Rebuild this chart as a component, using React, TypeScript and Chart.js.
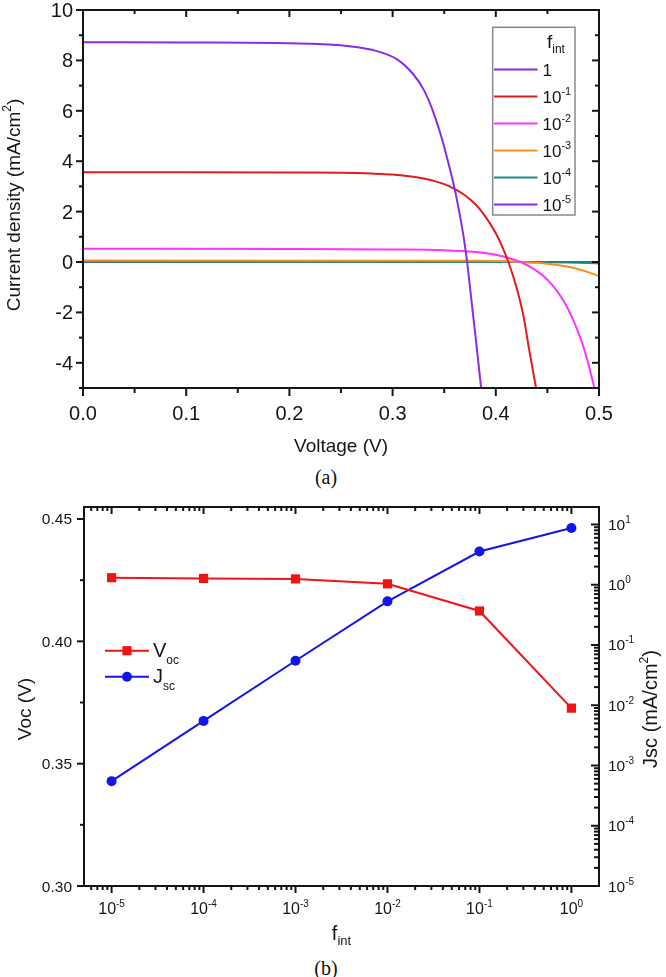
import React, { useEffect, useRef } from 'react';
import { Chart, registerables } from 'chart.js';

Chart.register(...registerables);

const FONT = '"Liberation Sans", Arial, Helvetica, sans-serif';
const AX = '#151515';

// ---------- Panel (a): J–V curves for several f_int ----------
const voltageF1 = [0, 0.1, 0.2, 0.25, 0.28, 0.304, 0.32, 0.33, 0.339, 0.347, 0.353, 0.36, 0.365, 0.369, 0.3722, 0.3765, 0.381, 0.3858];
const currentF1 = [8.72, 8.71, 8.68, 8.6, 8.42, 8.05, 7.45, 6.85, 6.0, 5.0, 4.1, 2.93, 1.9, 0.95, 0, -1.55, -3.2, -5.0];

const voltageF1e1 = [0, 0.1, 0.2, 0.25, 0.28, 0.3, 0.32, 0.33, 0.34, 0.35, 0.36, 0.37, 0.38, 0.39, 0.4, 0.406, 0.4122, 0.42, 0.4266, 0.432, 0.439];
const currentF1e1 = [3.56, 3.56, 3.55, 3.54, 3.51, 3.47, 3.38, 3.31, 3.22, 3.09, 2.9, 2.65, 2.3, 1.8, 1.14, 0.63, 0, -1.0, -2.1, -3.4, -5.0];

const voltageF1e2 = [0, 0.2, 0.3, 0.35, 0.38, 0.4, 0.41, 0.418, 0.424, 0.435, 0.445, 0.455, 0.465, 0.473, 0.48, 0.486, 0.491, 0.4955];
const currentF1e2 = [0.53, 0.52, 0.5, 0.47, 0.4, 0.29, 0.19, 0.09, 0, -0.23, -0.52, -0.93, -1.5, -2.12, -2.8, -3.5, -4.25, -5.0];

const voltageF1e3 = [0, 0.3, 0.38, 0.41, 0.4255, 0.44, 0.45, 0.46, 0.47, 0.48, 0.49, 0.5];
const currentF1e3 = [0.055, 0.054, 0.047, 0.03, 0, -0.034, -0.07, -0.12, -0.19, -0.29, -0.41, -0.56];

const voltageF1e4 = [0, 0.4, 0.4255, 0.45, 0.47, 0.49, 0.5];
const currentF1e4 = [0.0055, 0.0035, 0, -0.007, -0.019, -0.04, -0.056];

const voltageF1e5 = [0, 0.4, 0.4255, 0.45, 0.47, 0.49, 0.5];
const currentF1e5 = [0.00055, 0.00035, 0, -0.0007, -0.0019, -0.004, -0.0056];

const seriesColorsA = ['#8B2BE2', '#E01B1B', '#FF33FF', '#FF8C1A', '#178A8A', '#8B2BE2'];
const legendExpA: (string | null)[] = [null, '-1', '-2', '-3', '-4', '-5'];

const xTicksA = [0, 0.1, 0.2, 0.3, 0.4, 0.5];
const xLabelsA = ['0.0', '0.1', '0.2', '0.3', '0.4', '0.5'];
const yTicksA = [-4, -2, 0, 2, 4, 6, 8, 10];

// ---------- Panel (b): Voc and Jsc vs f_int ----------
const fInt = [1e-5, 1e-4, 1e-3, 1e-2, 1e-1, 1];
const vocValues = [0.426, 0.4257, 0.4255, 0.4235, 0.4124, 0.3727];
const jscValues = [5.5e-4, 5.5e-3, 0.0547, 0.53, 3.56, 8.72];

const xExpB = [-5, -4, -3, -2, -1, 0];
const vocTicks = [0.3, 0.35, 0.4, 0.45];
const vocLabels = ['0.30', '0.35', '0.40', '0.45'];
const jscExp = [-5, -4, -3, -2, -1, 0, 1];

type Seg = { t: string; s: number; dy?: number };

function drawRich(ctx: CanvasRenderingContext2D, segs: Seg[], x: number, y: number, align: 'left' | 'center' | 'right') {
  let total = 0;
  const widths: number[] = [];
  for (const g of segs) {
    ctx.font = `${g.s}px ${FONT}`;
    const w = ctx.measureText(g.t).width;
    widths.push(w);
    total += w;
  }
  let cx = align === 'left' ? x : align === 'center' ? x - total / 2 : x - total;
  ctx.textAlign = 'left';
  ctx.textBaseline = 'alphabetic';
  segs.forEach((g, i) => {
    ctx.font = `${g.s}px ${FONT}`;
    ctx.fillText(g.t, cx, y + (g.dy || 0));
    cx += widths[i];
  });
}

function seg(ctx: CanvasRenderingContext2D, x1: number, y1: number, x2: number, y2: number) {
  ctx.beginPath();
  ctx.moveTo(x1, y1);
  ctx.lineTo(x2, y2);
  ctx.stroke();
}

const panelAPlugin = {
  id: 'panelA',
  afterDraw(chart: any) {
    const { ctx, chartArea: a, scales } = chart;
    const sx = scales.x;
    const sy = scales.y;
    ctx.save();
    ctx.strokeStyle = AX;
    ctx.fillStyle = AX;
    ctx.lineWidth = 2;
    ctx.strokeRect(a.left, a.top, a.right - a.left, a.bottom - a.top);
    // x ticks
    xTicksA.forEach((v, i) => {
      const p = sx.getPixelForValue(v);
      seg(ctx, p, a.bottom, p, a.bottom + 8);
      seg(ctx, p, a.top, p, a.top + 7);
      if (i < xTicksA.length - 1) {
        const q = sx.getPixelForValue(v + 0.05);
        seg(ctx, q, a.bottom, q, a.bottom + 5);
        seg(ctx, q, a.top, q, a.top + 4);
      }
    });
    // y ticks
    yTicksA.forEach((v) => {
      const p = sy.getPixelForValue(v);
      seg(ctx, a.left - 7, p, a.left, p);
      seg(ctx, a.right - 7, p, a.right, p);
      const q = sy.getPixelForValue(v - 1);
      seg(ctx, a.left - 4, q, a.left, q);
      seg(ctx, a.right - 4, q, a.right, q);
    });
    // labels
    xTicksA.forEach((v, i) => {
      drawRich(ctx, [{ t: xLabelsA[i], s: 20 }], sx.getPixelForValue(v), 420, 'center');
    });
    yTicksA.forEach((v) => {
      drawRich(ctx, [{ t: String(v), s: 20 }], a.left - 10, sy.getPixelForValue(v) + 7, 'right');
    });
    // axis titles
    drawRich(ctx, [{ t: 'Voltage (V)', s: 19 }], (a.left + a.right) / 2, 452, 'center');
    ctx.save();
    ctx.translate(13, (a.top + a.bottom) / 2 + 6);
    ctx.rotate(-Math.PI / 2);
    drawRich(ctx, [
      { t: 'Current density (mA/cm', s: 19 },
      { t: '2', s: 12, dy: -9 },
      { t: ')', s: 19 },
    ], 0, 7, 'center');
    ctx.restore();
    // legend
    ctx.strokeStyle = '#8a8a8a';
    ctx.lineWidth = 1.5;
    ctx.strokeRect(492.7, 27.3, 82.3, 187.7);
    drawRich(ctx, [{ t: 'f', s: 19 }, { t: 'int', s: 12, dy: 5 }], 547, 48, 'left');
    legendExpA.forEach((e, i) => {
      const y = 69.5 + 27 * i;
      ctx.strokeStyle = seriesColorsA[i];
      ctx.lineWidth = 2;
      seg(ctx, 494, y, 537.5, y);
      ctx.fillStyle = AX;
      if (e === null) drawRich(ctx, [{ t: '1', s: 17 }], 542.5, y + 6.5, 'left');
      else drawRich(ctx, [{ t: '10', s: 17 }, { t: e, s: 11, dy: -8 }], 542.5, y + 6.5, 'left');
    });
    ctx.restore();
  },
};

const panelBPlugin = {
  id: 'panelB',
  afterDraw(chart: any) {
    const { ctx, chartArea: a, scales } = chart;
    const sx = scales.x;
    const sy = scales.y;
    const sy2 = scales.y2;
    ctx.save();
    ctx.strokeStyle = AX;
    ctx.fillStyle = AX;
    ctx.lineWidth = 2;
    ctx.strokeRect(a.left, a.top, a.right - a.left, a.bottom - a.top);
    // x log ticks
    for (let e = -6; e <= 0; e++) {
      for (let m = 1; m <= 9; m++) {
        const v = m * Math.pow(10, e);
        if (v < sx.min || v > sx.max) continue;
        const p = sx.getPixelForValue(v);
        const len = m === 1 ? 7 : 4;
        seg(ctx, p, a.bottom, p, a.bottom + len);
        seg(ctx, p, a.top, p, a.top + len);
      }
    }
    // left ticks
    vocTicks.forEach((v, i) => {
      const p = sy.getPixelForValue(v);
      seg(ctx, a.left - 7, p, a.left, p);
      if (i < vocTicks.length - 1) {
        const q = sy.getPixelForValue(v + 0.025);
        seg(ctx, a.left - 4, q, a.left, q);
      }
    });
    // right log ticks
    for (let e = -5; e <= 1; e++) {
      for (let m = 1; m <= 9; m++) {
        const v = m * Math.pow(10, e);
        if (v < sy2.min * 0.999 || v > sy2.max) continue;
        const p = sy2.getPixelForValue(v);
        const len = m === 1 ? 8 : 5;
        seg(ctx, a.right - len, p, a.right, p);
      }
    }
    // labels
    vocTicks.forEach((v, i) => {
      drawRich(ctx, [{ t: vocLabels[i], s: 15.5 }], a.left - 12, sy.getPixelForValue(v) + 5.5, 'right');
    });
    xExpB.forEach((e) => {
      drawRich(ctx, [{ t: '10', s: 16 }, { t: String(e), s: 10, dy: -7 }], sx.getPixelForValue(Math.pow(10, e)), a.bottom + 28, 'center');
    });
    jscExp.forEach((e) => {
      drawRich(ctx, [{ t: '10', s: 15.5 }, { t: String(e), s: 10, dy: -7 }], a.right + 9, sy2.getPixelForValue(Math.pow(10, e)) + 5.5, 'left');
    });
    // titles
    drawRich(ctx, [{ t: 'f', s: 20 }, { t: 'int', s: 13, dy: 5 }], (a.left + a.right) / 2, 450, 'center');
    ctx.save();
    ctx.translate(24, 219);
    ctx.rotate(-Math.PI / 2);
    drawRich(ctx, [{ t: 'Voc (V)', s: 19 }], 0, 7, 'center');
    ctx.restore();
    ctx.save();
    ctx.translate(650, 219);
    ctx.rotate(-Math.PI / 2);
    drawRich(ctx, [
      { t: 'Jsc (mA/cm', s: 20 },
      { t: '2', s: 12, dy: -9 },
      { t: ')', s: 20 },
    ], 0, 7, 'center');
    ctx.restore();
    // legend
    const rows = [
      { y: 160.7, color: '#F01414', main: 'V', sub: 'oc', marker: 'rect' },
      { y: 186.7, color: '#1414F0', main: 'J', sub: 'sc', marker: 'circle' },
    ];
    rows.forEach((r) => {
      ctx.strokeStyle = r.color;
      ctx.fillStyle = r.color;
      ctx.lineWidth = 2;
      seg(ctx, 105, r.y, 149, r.y);
      if (r.marker === 'rect') ctx.fillRect(127 - 4.6, r.y - 4.6, 9.2, 9.2);
      else {
        ctx.beginPath();
        ctx.arc(127, r.y, 5, 0, Math.PI * 2);
        ctx.fill();
      }
      ctx.fillStyle = AX;
      drawRich(ctx, [{ t: r.main, s: 20 }, { t: r.sub, s: 12, dy: 7 }], 153, r.y + 6.5, 'left');
    });
    ctx.restore();
  },
};

function zip(xs: number[], ys: number[]) {
  return xs.map((x, i) => ({ x, y: ys[i] }));
}

const captionStyle = (top: number): React.CSSProperties => ({
  position: 'absolute',
  left: 276,
  width: 100,
  top,
  height: 24,
  lineHeight: '24px',
  textAlign: 'center',
  fontFamily: '"Liberation Serif", "Times New Roman", serif',
  fontSize: 20,
  color: '#111',
});

export default function App() {
  const refA = useRef<HTMLCanvasElement>(null);
  const refB = useRef<HTMLCanvasElement>(null);

  useEffect(() => {
    const seriesA = [
      zip(voltageF1, currentF1),
      zip(voltageF1e1, currentF1e1),
      zip(voltageF1e2, currentF1e2),
      zip(voltageF1e3, currentF1e3),
      zip(voltageF1e4, currentF1e4),
      zip(voltageF1e5, currentF1e5),
    ];
    const chartA = new Chart(refA.current as HTMLCanvasElement, {
      type: 'line',
      data: {
        datasets: seriesA.map((d, i) => ({
          data: d,
          borderColor: seriesColorsA[i],
          borderWidth: 2,
          pointRadius: 0,
          fill: false,
          cubicInterpolationMode: 'monotone' as const,
        })),
      },
      options: {
        responsive: false,
        animation: false,
        devicePixelRatio: 1,
        events: [],
        layout: { padding: { left: 83, right: 67, top: 10, bottom: 72 } },
        plugins: { legend: { display: false }, tooltip: { enabled: false } },
        scales: {
          x: { type: 'linear', min: 0, max: 0.5, display: false, bounds: 'data' },
          y: { type: 'linear', min: -5, max: 10, display: false, bounds: 'data' },
        },
      },
      plugins: [panelAPlugin],
    } as any);

    const chartB = new Chart(refB.current as HTMLCanvasElement, {
      type: 'line',
      data: {
        datasets: [
          {
            data: zip(fInt, vocValues),
            yAxisID: 'y',
            borderColor: '#F01414',
            backgroundColor: '#F01414',
            borderWidth: 2,
            pointStyle: 'rect',
            pointRadius: 6.5,
            pointBorderWidth: 0,
            tension: 0,
          },
          {
            data: zip(fInt, jscValues),
            yAxisID: 'y2',
            borderColor: '#1414F0',
            backgroundColor: '#1414F0',
            borderWidth: 2,
            pointStyle: 'circle',
            pointRadius: 5,
            pointBorderWidth: 0,
            tension: 0,
          },
        ],
      },
      options: {
        responsive: false,
        animation: false,
        devicePixelRatio: 1,
        events: [],
        layout: { padding: { left: 84, right: 67, top: 17, bottom: 64 } },
        plugins: { legend: { display: false }, tooltip: { enabled: false } },
        scales: {
          x: { type: 'logarithmic', min: Math.pow(10, -5.3), max: Math.pow(10, 0.3), display: false, bounds: 'data' },
          y: { type: 'linear', min: 0.3, max: 0.4549, display: false, bounds: 'data' },
          y2: { type: 'logarithmic', min: 1e-5, max: 19.5, display: false, bounds: 'data', position: 'right' },
        },
      },
      plugins: [panelBPlugin],
    } as any);

    return () => {
      chartA.destroy();
      chartB.destroy();
    };
  }, []);

  return (
    <div style={{ position: 'absolute', left: 0, top: 0, width: 666, height: 977, background: '#fff' }}>
      <canvas ref={refA} width={666} height={460} style={{ position: 'absolute', left: 0, top: 0 }} />
      <div style={captionStyle(465)}>(a)</div>
      <canvas ref={refB} width={666} height={460} style={{ position: 'absolute', left: 0, top: 490 }} />
      <div style={captionStyle(956)}>(b)</div>
    </div>
  );
}
